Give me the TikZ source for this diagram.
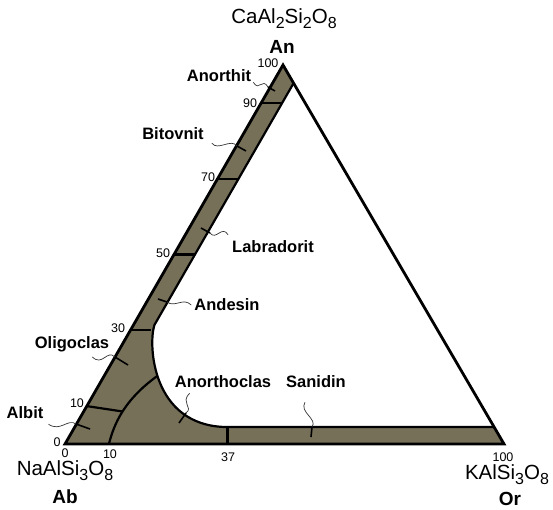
\documentclass[tikz,border=0pt]{standalone}
\usepackage{fontspec}
\setmainfont{Liberation Sans}
\usetikzlibrary{calc}
\definecolor{feldspar}{HTML}{767059}
\newcommand{\csub}[1]{\raisebox{-0.25em}{\fontsize{16}{16}\selectfont #1}}

\begin{document}
\begin{tikzpicture}[x=1pt, y=-1pt,
    triedge/.style={line width=2.8pt, line join=miter, miter limit=20},
    bound/.style={line width=2.2pt},
    leader/.style={line width=0.7pt, black!80},
    tick/.style={line width=1.6pt},
    mineral/.style={font=\bfseries\fontsize{16.5}{18}\selectfont, inner sep=0pt},
    formula/.style={font=\fontsize{20.5}{22}\selectfont, inner sep=0pt},
    member/.style={font=\bfseries\fontsize{19}{21}\selectfont, inner sep=0pt},
    pct/.style={font=\fontsize{12.5}{14}\selectfont, inner sep=0pt},
]
\useasboundingbox (0,0) rectangle (553,510);

% corners of the ternary
\coordinate (Ab) at (65,444);
\coordinate (Or) at (504,444);
\coordinate (An) at (283,65);

% inner edge of the feldspar field
\coordinate (topIn) at (293.6,83.1);
\coordinate (bendIn) at (154.4,325);
\coordinate (flatIn) at (225,427);
\coordinate (rightIn) at (494,427);

\fill[feldspar] (An) -- (Ab) -- (Or) -- (rightIn) -- (flatIn)
    .. controls (152,425) and (148,345) .. (bendIn) -- (topIn) -- cycle;
\draw[bound] (rightIn) -- (flatIn)
    .. controls (152,425) and (148,345) .. (bendIn) coordinate[pos=0.55] (kinkIn) -- (topIn);

% plagioclase divisions
\foreach \p in {30,50,70,90}
    \draw[bound] ($(Ab)!0.\p!(An)$) -- ++(21,0);
\coordinate (an10) at ($(Ab)!0.1!(An)$);
\coordinate (or10) at ($(Ab)!0.1!(Or)$);
\coordinate (or37) at ($(Ab)!0.37!(Or)$);
\draw[bound] (or10) .. controls (114,424) and (124,400) .. (kinkIn) coordinate[pos=0.5] (splitIn);
\draw[bound] (an10) -- (splitIn);
\draw[bound] (or37) -- (or37 |- flatIn);

\draw[triedge] (Ab) -- (Or) -- (An) -- cycle;

% end members
\node[formula] (anF) at (284,19) {CaAl\csub{2}Si\csub{2}O\csub{8}};
\node[member] (anM) at (282,47) {An};
\node[formula] (abF) at (65,471) {NaAlSi\csub{3}O\csub{8}};
\node[member] (abM) at (65,497) {Ab};
\node[formula] (orF) at (507,475) {KAlSi\csub{3}O\csub{8}};
\node[member] (orM) at (510,499) {Or};

% scale
\node[pct] (p100) at (268,63) {100};
\node[pct] (p90) at (250,103) {90};
\node[pct] (p70) at (208,177) {70};
\node[pct] (p50) at (163,253) {50};
\node[pct] (p30) at (118,328) {30};
\node[pct] (p10) at (77,403) {10};
\node[pct] (p0l) at (57,442) {0};
\node[pct] (p0b) at (65,453) {0};
\node[pct] (q10) at (110,454) {10};
\node[pct] (q37) at (228,457) {37};
\node[pct] (q100) at (503,457) {100};

% minerals
\node[mineral] (anorthit) at (219,76) {Anorthit};
\node[mineral] (bitovnit) at (173,134) {Bitovnit};
\node[mineral] (labradorit) at (273,247) {Labradorit};
\node[mineral] (andesin) at (227,305) {Andesin};
\node[mineral] (oligoclas) at (72,344) {Oligoclas};
\node[mineral] (albit) at (25,413) {Albit};
\node[mineral] (anorthoclas) at (223,382) {Anorthoclas};
\node[mineral] (sanidin) at (316,382) {Sanidin};

\coordinate (anorthitEnd) at (268,87);
\coordinate (bitovnitEnd) at (237,146);
\coordinate (labradoritEnd) at (210,233);
\coordinate (andesinEnd) at (167,302);
\coordinate (oligoclasEnd) at (115,357);
\coordinate (albitEnd) at (76,424);
\coordinate (anorthoclasEnd) at (186,413);
\coordinate (sanidinEnd) at (312,427);

\draw[leader] ([shift={(2,0)}]anorthit.south east) .. controls +(6,10) and +(-6,-10) .. (anorthitEnd);
\draw[tick] (anorthitEnd) -- +(7,4);
\draw[leader] ([shift={(8,3)}]bitovnit.south east) .. controls +(6,8) and +(-6,-8) .. (bitovnitEnd);
\draw[tick] (bitovnitEnd) -- +(9,5);
\draw[leader] ([shift={(-4,-6)}]labradorit.north west) .. controls +(-6,-10) and +(6,8) .. (labradoritEnd);
\draw[tick] (labradoritEnd) -- +(-9,-5);
\draw[leader] ([shift={(-3,0)}]andesin.west) .. controls +(-8,-8) and +(8,6) .. (andesinEnd);
\draw[tick] (andesinEnd) -- +(-9,-3);
\draw[leader] ([shift={(-17,5)}]oligoclas.south east) .. controls +(10,10) and +(-8,-8) .. (oligoclasEnd);
\draw[tick] (oligoclasEnd) -- +(13,8);
\draw[leader] ([shift={(5,5)}]albit.south east) .. controls +(12,8) and +(-8,-6) .. (albitEnd);
\draw[tick] (albitEnd) -- +(14,5);
\draw[leader] ([shift={(15,5)}]anorthoclas.south west) .. controls +(-10,10) and +(8,-6) .. (anorthoclasEnd);
\draw[tick] (anorthoclasEnd) -- +(-7,10);
\draw[leader] ([shift={(-11,14)}]sanidin.south) .. controls +(-6,10) and +(6,-8) .. (sanidinEnd);
\draw[tick] (sanidinEnd) -- +(-1,10);
\end{tikzpicture}
\end{document}
